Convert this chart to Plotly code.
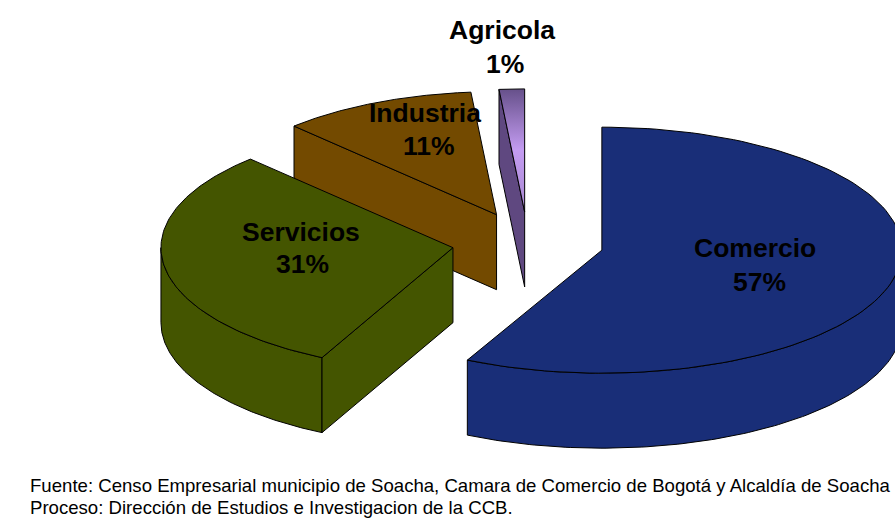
import numpy as np
import plotly.graph_objects as go

categories = ["Comercio", "Servicios", "Industria", "Agricola"]
shares = [57.4, 30.4, 10.8, 1.4]
share_labels = ["57%", "31%", "11%", "1%"]
colors = ["#192e78", "#445500", "#734a00", "#5f4880"]
footer_lines = [
    "Fuente: Censo Empresarial municipio de Soacha, Camara de Comercio de Bogotá y Alcaldía de Soacha",
    "Proceso: Dirección de Estudios e Investigacion de la CCB.",
]

W, H = 895, 529
CX, CY, RX, RY, DEPTH, EXPLODE = 528, 243, 300, 123, 75, 0.253
SLICE_RX = [300, 292, 292, 292]

edges = np.cumsum([0] + shares) / sum(shares) * 2 * np.pi


def poly(fig, xs, ys, color, **kw):
    fig.add_trace(go.Scatter(x=list(xs) + [xs[0]], y=list(ys) + [ys[0]], mode="lines",
                             fill="toself", fillcolor=color,
                             line=dict(color="#000000", width=1),
                             hoverinfo="skip", showlegend=False, **kw))


fig = go.Figure()
slices = []
for i in range(len(shares)):
    t0, t1 = edges[i], edges[i + 1]
    mid = (t0 + t1) / 2
    apex = (CX + EXPLODE * RX * np.sin(mid), CY - EXPLODE * RY * np.cos(mid))
    slices.append((t0, t1, apex, SLICE_RX[i]))


def pt(t, s, dy=0.0):
    return s[2][0] + s[3] * np.sin(t), s[2][1] - RY * np.cos(t) + dy


def top(i):
    s = slices[i]
    ts = np.linspace(s[0], s[1], 120)
    x, y = pt(ts, s)
    return [s[2][0], *x], [s[2][1], *y]


def rim(i):
    s = slices[i]
    lo, hi = max(s[0], np.pi / 2), min(s[1], 3 * np.pi / 2)
    ts = np.linspace(lo, hi, 120)
    x, y = pt(ts, s)
    xb, yb = pt(ts[::-1], s, DEPTH)
    return [*x, *xb], [*y, *yb]


def cut(i):
    s = slices[i]
    x, y = pt(s[0], s)
    return [s[2][0], x, x, s[2][0]], [s[2][1], y, y + DEPTH, s[2][1] + DEPTH]


# Agricola
poly(fig, *cut(3), colors[3])
poly(fig, *top(3), colors[3],
     fillgradient=dict(type="vertical",
                       colorscale=[[0, "#a888d0"], [0.5, "#c49cf2"], [1, "#66508a"]]))
# Industria
poly(fig, *cut(2), colors[2])
poly(fig, *top(2), colors[2])
# Servicios
poly(fig, *rim(1), colors[1])
poly(fig, *cut(1), colors[1])
poly(fig, *top(1), colors[1])
# Comercio
poly(fig, *rim(0), colors[0])
poly(fig, *top(0), colors[0])


def label(x, y, text, size=26.5, **kw):
    fig.add_annotation(x=x, y=y, text=text, showarrow=False, xref="x", yref="y",
                       font=dict(family="Liberation Sans", size=size, color="#000000"), **kw)


label_pos = [(755, 248, 759, 282), (301, 232, 302, 264), (425, 113, 429, 146), (502, 30, 505, 64)]
for name, pct, (x1, y1, x2, y2) in zip(categories, share_labels, label_pos):
    label(x1, y1, f"<b>{name}</b>")
    label(x2, y2, f"<b>{pct}</b>")

for line, y in zip(footer_lines, [485, 507]):
    label(28, y, line, size=18.6, xanchor="left")

fig.update_layout(
    width=W, height=H, margin=dict(l=0, r=0, t=0, b=0),
    paper_bgcolor="#ffffff", plot_bgcolor="#ffffff",
    xaxis=dict(range=[0, W], visible=False, fixedrange=True),
    yaxis=dict(range=[H, 0], visible=False, fixedrange=True),
)
fig.write_html("out.html", config=dict(displayModeBar=False),
               post_script="document.body.style.margin='0';document.body.style.overflow='hidden';")
